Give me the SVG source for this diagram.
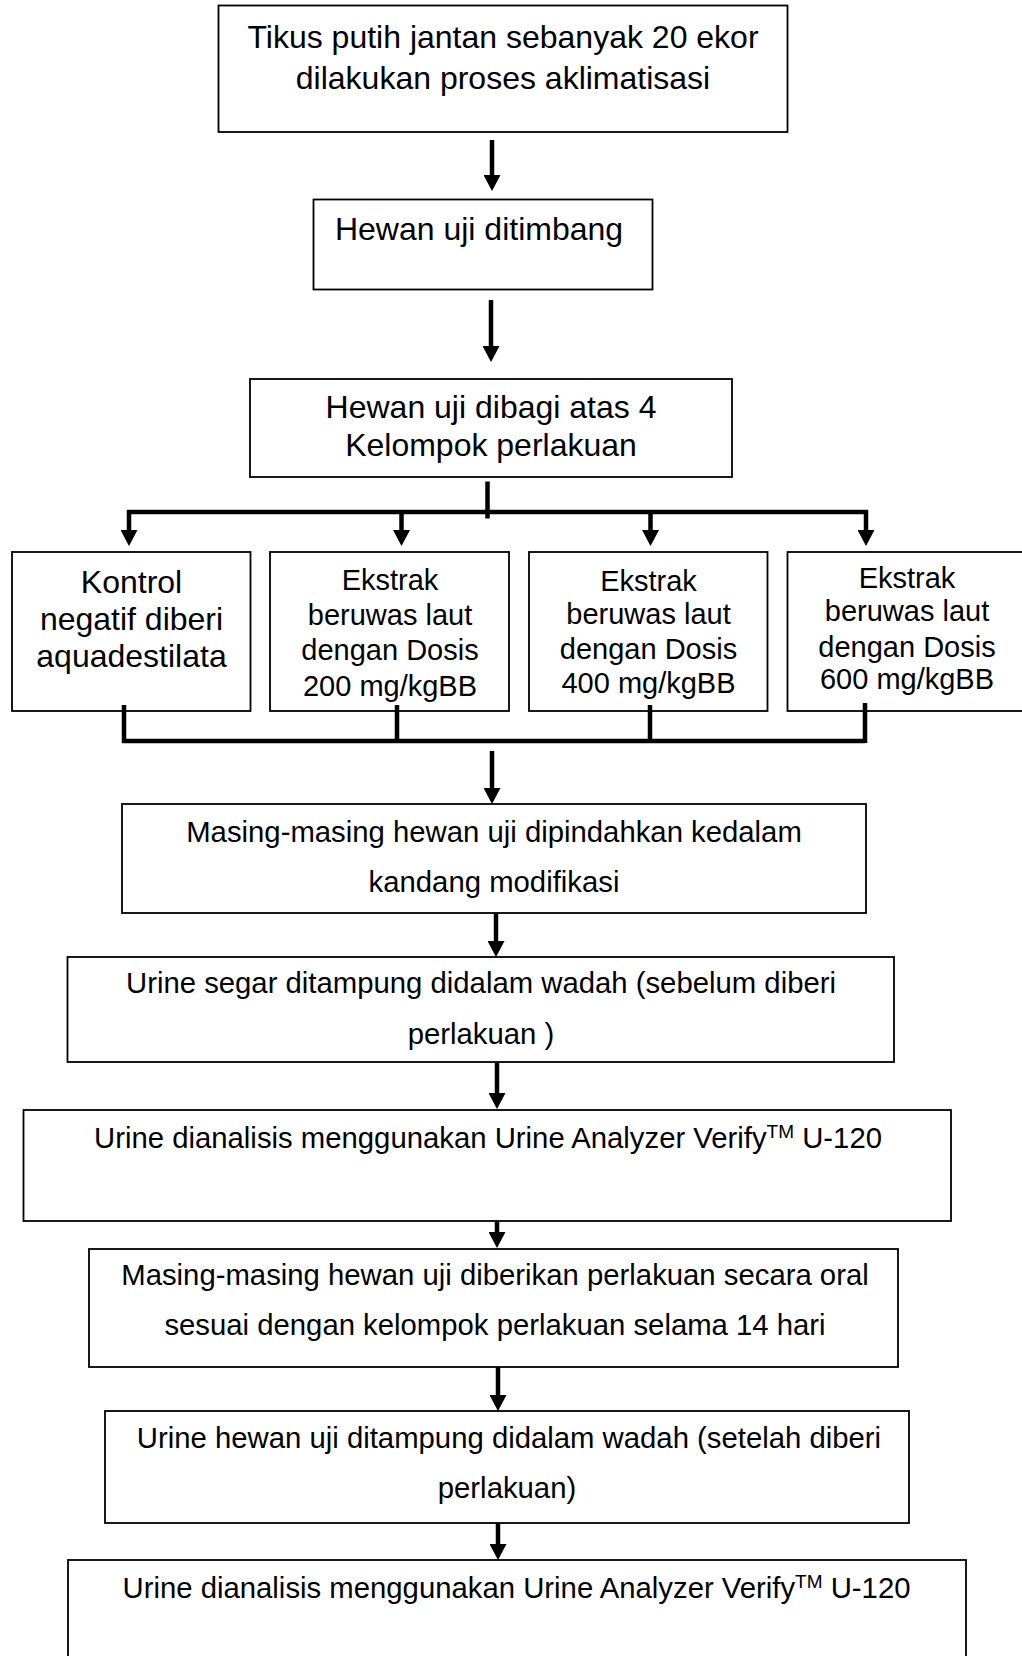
<svg xmlns="http://www.w3.org/2000/svg" width="1022" height="1656" viewBox="0 0 1022 1656">
<style>
.box{fill:#fff;stroke:#000;stroke-width:1.8}
.t{font-family:"Liberation Sans",Arial,sans-serif;fill:#000;text-anchor:middle}
.big{font-size:32px}
.med{font-size:29px}
.low{font-size:29.3px}
.c{fill:none;stroke:#000;stroke-width:4.5}
</style>
<defs>
<marker id="ah" markerUnits="userSpaceOnUse" markerWidth="16" markerHeight="17" viewBox="0 0 16 17" refX="0" refY="8.5" orient="auto">
<path d="M0,0 L16,8.5 L0,17 z" fill="#000"/>
</marker>
</defs>
<rect width="1022" height="1656" fill="#fff"/>
<g id="n1"><rect class="box" x="218.5" y="5.5" width="569" height="126.5"/>
<text class="t big" x="503" y="47.5">Tikus putih jantan sebanyak 20 ekor</text>
<text class="t big" x="503" y="89">dilakukan proses aklimatisasi</text></g>
<g id="n2"><rect class="box" x="313.5" y="199.5" width="339" height="90"/>
<text class="t big" x="479" y="240">Hewan uji ditimbang</text></g>
<g id="n3"><rect class="box" x="250" y="379" width="482" height="98"/>
<text class="t big" x="491" y="418">Hewan uji dibagi atas 4</text>
<text class="t big" x="491" y="456">Kelompok perlakuan</text></g>
<g id="n4"><rect class="box" x="12" y="552" width="238.5" height="159"/>
<text class="t big" x="131.5" y="593">Kontrol</text>
<text class="t big" x="131.5" y="630">negatif diberi</text>
<text class="t big" x="131.5" y="667">aquadestilata</text></g>
<g id="n5"><rect class="box" x="270" y="552" width="239" height="159"/>
<text class="t med" x="390" y="590">Ekstrak</text>
<text class="t med" x="390" y="625">beruwas laut</text>
<text class="t med" x="390" y="660">dengan Dosis</text>
<text class="t med" x="390" y="696">200 mg/kgBB</text></g>
<g id="n6"><rect class="box" x="529" y="552" width="238.5" height="159"/>
<text class="t med" x="648.5" y="591">Ekstrak</text>
<text class="t med" x="648.5" y="624">beruwas laut</text>
<text class="t med" x="648.5" y="659">dengan Dosis</text>
<text class="t med" x="648.5" y="693">400 mg/kgBB</text></g>
<g id="n7"><rect class="box" x="787.5" y="552" width="245" height="159"/>
<text class="t med" x="907" y="588">Ekstrak</text>
<text class="t med" x="907" y="621">beruwas laut</text>
<text class="t med" x="907" y="657">dengan Dosis</text>
<text class="t med" x="907" y="689">600 mg/kgBB</text></g>
<g id="n8"><rect class="box" x="122" y="804" width="744" height="109"/>
<text class="t low" x="494" y="842">Masing-masing hewan uji dipindahkan kedalam</text>
<text class="t low" x="494" y="892">kandang modifikasi</text></g>
<g id="n9"><rect class="box" x="67.5" y="957" width="826.5" height="105"/>
<text class="t low" x="481" y="993">Urine segar ditampung didalam wadah (sebelum diberi</text>
<text class="t low" x="481" y="1044">perlakuan )</text></g>
<g id="n10"><rect class="box" x="23.5" y="1110" width="927.5" height="111"/>
<text class="t low" x="488" y="1148">Urine dianalisis menggunakan Urine Analyzer Verify<tspan font-size="19" dy="-10">TM</tspan><tspan dy="10"> U-120</tspan></text></g>
<g id="n11"><rect class="box" x="89" y="1249" width="809" height="118"/>
<text class="t low" x="495" y="1285">Masing-masing hewan uji diberikan perlakuan secara oral</text>
<text class="t low" x="495" y="1335">sesuai dengan kelompok perlakuan selama 14 hari</text></g>
<g id="n12"><rect class="box" x="105" y="1411" width="804" height="112"/>
<text class="t low" x="509" y="1448">Urine hewan uji ditampung didalam wadah (setelah diberi</text>
<text class="t low" x="507" y="1498">perlakuan)</text></g>
<g id="n13"><rect class="box" x="68" y="1560" width="898" height="110"/>
<text class="t low" x="516.5" y="1598">Urine dianalisis menggunakan Urine Analyzer Verify<tspan font-size="19" dy="-10">TM</tspan><tspan dy="10"> U-120</tspan></text></g>
<g id="connectors">
<line class="c" x1="492" y1="140" x2="492" y2="175" marker-end="url(#ah)"/>
<line class="c" x1="491" y1="300" x2="491" y2="346" marker-end="url(#ah)"/>
<line class="c" x1="487.5" y1="481.5" x2="487.5" y2="518.5"/>
<line class="c" x1="127" y1="512" x2="868" y2="512"/>
<line class="c" x1="129" y1="510" x2="129" y2="530" marker-end="url(#ah)"/>
<line class="c" x1="401.5" y1="512" x2="401.5" y2="530" marker-end="url(#ah)"/>
<line class="c" x1="650.5" y1="512" x2="650.5" y2="530" marker-end="url(#ah)"/>
<line class="c" x1="866" y1="510" x2="866" y2="530" marker-end="url(#ah)"/>
<path class="c" d="M124,705 V741 H865 M397,705 V741 M650,705 V741 M865,703 V743"/>
<line class="c" x1="492" y1="751" x2="492" y2="788" marker-end="url(#ah)"/>
<line class="c" x1="496" y1="913" x2="496" y2="941" marker-end="url(#ah)"/>
<line class="c" x1="497" y1="1063" x2="497" y2="1093" marker-end="url(#ah)"/>
<line class="c" x1="497" y1="1221" x2="497" y2="1232" marker-end="url(#ah)"/>
<line class="c" x1="498" y1="1367" x2="498" y2="1395" marker-end="url(#ah)"/>
<line class="c" x1="498" y1="1523" x2="498" y2="1544" marker-end="url(#ah)"/>
</g>
</svg>
